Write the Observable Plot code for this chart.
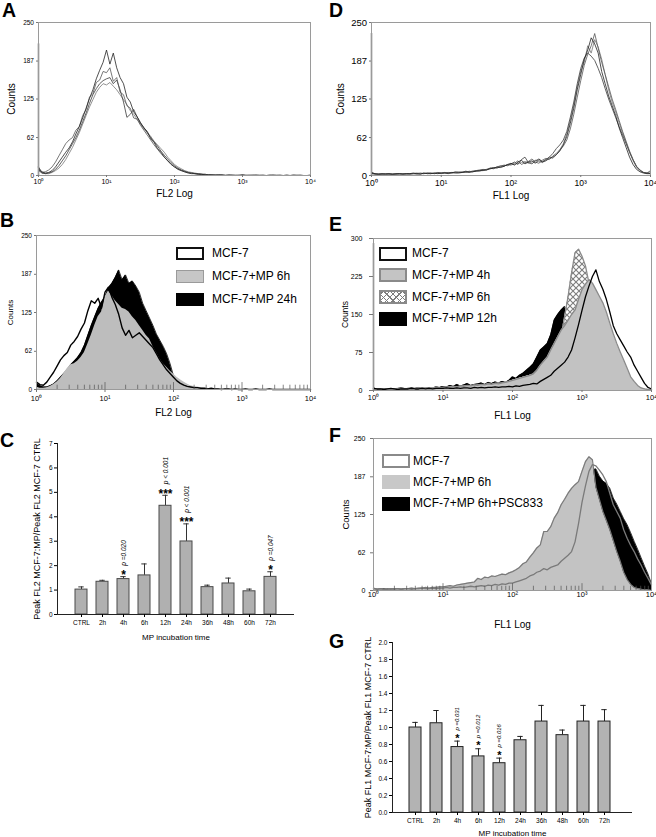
<!DOCTYPE html>
<html>
<head>
<meta charset="utf-8">
<script src="https://cdn.jsdelivr.net/npm/d3@7"></script>
<script src="https://cdn.jsdelivr.net/npm/@observablehq/plot@0.6"></script>
<style>
  body { margin: 0; background: #fff; font-family: "Liberation Sans", Arial, Helvetica, sans-serif; }
  #fig { position: relative; width: 656px; height: 837px; overflow: hidden; background: #fff; }
  .panel { position: absolute; }
  .panel svg { display: block; overflow: visible; }
  .letter { position: absolute; font-weight: bold; font-size: 19.5px; line-height: 1; color: #000; }
  .lgrow { position: absolute; }
  .lgsw { position: absolute; box-sizing: border-box; }
  .lgtx { position: absolute; white-space: nowrap; color: #000; }
</style>
</head>
<body>
<svg width="0" height="0" style="position:absolute">
  <defs>
    <pattern id="hatch" patternUnits="userSpaceOnUse" width="6" height="6">
      <rect width="6" height="6" fill="#ffffff"></rect>
      <path d="M0,0L6,6M6,0L0,6" stroke="#7d7d7d" stroke-width="1.1"></path>
    </pattern>
  </defs>
</svg>
<div id="fig"></div>
<script>
// ---------------- DATA ----------------
// log10 of fluorescence channel for every histogram sample
const logChannels = [
  0,0.05,0.1,0.15,0.2,0.25,0.3,0.35,0.4,0.45,
  0.5,0.55,0.6,0.65,0.7,0.75,0.8,0.85,0.9,0.95,
  1,1.05,1.1,1.15,1.2,1.25,1.3,1.35,1.4,1.45,
  1.5,1.55,1.6,1.65,1.7,1.75,1.8,1.85,1.9,1.95,
  2,2.05,2.1,2.15,2.2,2.25,2.3,2.35,2.4,2.45,
  2.5,2.55,2.6,2.65,2.7,2.75,2.8,2.85,2.9,2.95,
  3,3.05,3.1,3.15,3.2,3.25,3.3,3.35,3.4,3.45,
  3.5,3.55,3.6,3.65,3.7,3.75,3.8,3.85,3.9,3.95,
  4
];
const decadeTicks = [1, 10, 100, 1000, 10000];
const decadeLabels = ["10⁰", "10¹", "10²", "10³", "10⁴"];
const countTicks250 = [0, 62, 125, 187, 250];
const countTicks300 = [0, 75, 150, 225, 300];

// Panel A: FL2 replicates
const a1 = [12,6,4,5,8,14,22,30,38,45, 55,68,80,94,110,126,140,158,172,185, 205,182,200,176,160,150,128,120,104,96, 86,78,72,60,54,44,38,30,24,18, 14,10,8,6,4,3,3,2,2,1, 1,1,0,1,1,0,0,1,0,0, 1,0,0,0,1,0,0,0,0,1, 0,0,0,0,0,1,0,0,0,0, 0];
const a2 = [14,5,6,9,14,22,32,42,52,58, 62,74,80,98,108,128,134,152,156,170, 168,176,154,160,136,132,114,110,94,92, 82,74,66,58,50,43,36,30,24,19, 14,11,8,6,5,4,3,2,2,1, 1,0,1,1,0,0,1,0,0,1, 0,0,1,0,0,0,1,0,0,0, 0,1,0,0,0,0,0,1,0,0, 0];
const a3 = [10,4,3,4,6,10,16,24,32,42, 52,62,74,88,102,118,132,142,150,155, 158,160,150,156,140,120,95,100,108,96, 86,78,70,62,55,48,40,33,27,21, 16,12,9,7,5,4,3,3,2,2, 1,1,1,0,1,0,1,0,0,0, 1,0,0,1,0,0,0,0,1,0, 0,0,0,1,0,0,0,0,0,0, 1];
const a4 = [8,4,3,3,5,8,12,18,26,36, 46,58,70,84,98,112,124,136,144,150, 148,152,146,140,132,124,116,106,100,92, 84,76,70,64,56,50,44,38,30,24, 18,14,11,8,6,5,4,3,2,2, 1,1,1,1,0,1,0,0,1,0, 0,1,0,0,0,1,0,0,0,0, 1,0,0,0,0,0,1,0,0,0, 0];
const spikeA = 215;

// Panel D: FL1 replicates
const d1 = [4,3,2,3,2,3,2,3,3,2, 3,3,4,3,2,4,3,3,4,3, 4,4,3,5,4,4,5,6,5,6, 7,8,8,9,11,12,14,13,15,18, 20,17,22,25,19,22,24,20,26,22, 24,28,30,34,40,50,64,85,110,140, 165,190,205,225,215,200,170,150,130,114, 98,78,62,46,30,18,10,6,4,3, 3];
const d2 = [3,2,3,2,3,2,2,3,2,3, 2,3,3,4,3,3,4,3,4,4, 3,5,4,4,5,5,6,5,7,6, 8,7,9,10,12,11,14,16,15,18, 17,20,24,18,21,23,27,22,20,25, 28,26,32,36,42,48,58,76,100,128, 155,180,198,212,232,208,185,165,145,125, 108,90,72,56,40,26,14,8,5,4, 8];
const d3 = [5,3,2,2,3,3,2,2,3,3, 3,2,3,3,4,3,4,4,3,5, 4,4,5,4,6,5,5,7,6,7, 8,9,10,9,12,13,12,15,17,16, 19,22,18,26,30,21,19,24,27,23, 26,30,36,44,50,58,72,95,120,150, 175,192,200,195,188,175,160,142,125,110, 95,80,66,52,38,26,15,9,5,4, 3];
const d4 = [4,2,2,3,2,2,3,2,3,2, 3,3,3,2,3,4,3,4,3,4, 4,5,4,5,5,6,5,6,6,7, 7,8,9,10,11,12,13,14,16,17, 19,18,20,21,23,20,22,25,23,21, 26,30,28,34,42,52,68,90,115,145, 170,185,212,200,222,210,190,165,140,120, 104,86,70,54,38,24,14,8,5,4, 6];
const spikeD = 232;

// Panel B: FL2
const bLabels = ["MCF-7", "MCF-7+MP 6h", "MCF-7+MP 24h"];
const bMcf7 = [12,8,7,12,20,28,38,48,55,60, 72,78,86,98,108,128,144,140,148,132, 158,166,150,138,122,100,88,96,84,88, 92,86,80,74,68,58,48,40,32,26, 20,14,10,7,5,4,3,3,2,2, 1,2,1,1,0,1,1,0,1,0, 0,1,0,0,1,0,0,0,1,0, 0,0,0,0,0,0,0,0,0,0, 0];
const bMp6h = [4,2,2,3,5,8,12,18,26,34, 40,42,46,52,60,74,88,104,118,126, 150,160,152,144,138,132,130,126,118,112, 104,96,88,82,70,60,50,42,36,30, 25,20,16,12,9,6,5,4,3,2, 2,1,1,1,1,0,1,0,0,0, 0,0,0,0,0,0,0,0,0,0, 0,0,0,0,0,0,0,0,0,0, 0];
const bMp24h = [10,6,4,4,6,9,14,20,26,32, 40,46,52,60,72,88,104,118,132,142, 150,165,172,182,194,178,186,172,176,168, 158,140,128,116,104,90,80,70,58,42, 22,10,6,4,3,2,2,1,1,0, 0,0,0,0,0,0,0,0,0,0, 0,0,0,0,0,0,0,0,0,0, 0,0,0,0,0,0,0,0,0,0, 0];

// Panel E: FL1
const eLabels = ["MCF-7", "MCF-7+MP 4h", "MCF-7+MP 6h", "MCF-7+MP 12h"];
const eMcf7 = [4,3,3,2,3,4,3,2,3,3, 3,4,3,3,4,3,4,3,4,4, 4,5,4,4,5,4,5,5,4,6, 5,6,5,6,6,7,6,7,7,8, 7,9,8,10,11,12,14,13,18,22, 26,30,38,44,50,56,66,80,104,130, 158,185,206,225,238,215,200,180,155,128, 112,100,88,76,66,50,38,26,14,6, 3];
const eMp4h = [3,2,3,2,3,3,2,3,4,3, 4,3,4,5,4,5,4,5,6,5, 6,7,6,8,7,9,8,10,9,11, 10,12,11,13,12,14,13,15,16,18, 20,22,24,26,28,30,33,40,50,58, 66,80,93,106,119,128,139,150,159,180, 199,210,219,212,199,186,173,155,133,112, 93,76,60,44,27,18,10,5,3,2, 1];
const eMp6h = [3,3,2,3,2,3,3,4,3,3, 4,3,4,4,5,4,5,5,6,5, 6,6,7,8,7,8,9,8,10,9, 11,10,12,13,12,14,15,14,16,18, 20,22,24,26,28,30,31,32,33,40, 50,64,80,94,106,146,186,232,272,279, 265,246,212,196,186,170,152,132,110,90, 74,58,42,28,18,11,6,4,2,1, 1];
const eMp12h = [5,3,3,4,3,4,3,4,5,4, 4,5,4,6,5,4,6,5,7,6, 8,7,10,8,12,9,11,14,10,12, 13,15,12,16,14,17,15,18,16,20, 27,24,30,34,40,46,53,66,80,86, 93,110,139,150,159,166,146,170,172,180, 185,178,170,160,150,140,128,112,95,80, 65,50,36,22,14,8,4,2,1,1, 0];
const spikeE = 290;

// Panel F: FL1
const fLabels = ["MCF-7", "MCF-7+MP 6h", "MCF-7+MP 6h+PSC833"];
const fMcf7 = [3,2,3,2,2,3,2,3,2,3, 3,2,3,3,4,3,3,4,3,4, 4,5,4,5,5,6,5,6,7,6, 7,8,7,9,8,10,9,11,10,12, 12,14,16,18,20,24,26,30,32,36, 34,38,40,42,48,53,58,64,80,110, 145,172,196,207,205,198,190,179,160,141, 130,119,100,86,74,64,52,42,30,20, 9];
const fMp6h = [4,2,3,2,3,2,3,3,2,3, 3,4,3,4,4,5,4,5,5,6, 6,7,8,7,9,10,11,12,13,14, 20,18,22,21,24,23,25,27,26,29, 31,34,38,44,47,55,62,70,75,97, 97,105,119,128,141,150,160,168,174,179, 196,212,220,215,170,150,130,115,100,82, 64,48,30,18,10,5,3,2,1,1, 0];
const fPsc = [3,2,2,3,2,2,3,2,2,3, 2,3,2,3,3,2,3,3,4,3, 3,4,4,3,4,5,4,5,5,6, 6,7,6,7,8,7,8,9,9,10, 11,12,13,14,16,18,20,22,25,28, 30,34,38,42,46,50,55,60,66,72, 80,130,180,198,200,188,180,176,168,152, 142,130,118,108,95,81,68,54,40,27, 11];

// Panels C and G: peak ratios
const times = ["CTRL", "2h", "4h", "6h", "12h", "24h", "36h", "48h", "60h", "72h"];
const fl2Ratio = [1.02, 1.34, 1.45, 1.60, 4.45, 2.99, 1.12, 1.27, 0.95, 1.54];
const fl2Err   = [0.11, 0.06, 0.10, 0.47, 0.43, 0.72, 0.08, 0.22, 0.09, 0.21];
const fl2Ticks = [0, 1, 2, 3, 4, 5, 6, 7];
const sigTimesC = ["4h", "12h", "24h", "72h"];
const sigStarsC = ["*", "***", "***", "*"];
const sigPC = ["p =0.020", "p < 0.001", "p < 0.001", "p =0.047"];

const fl1Ratio = [1.00, 1.05, 0.77, 0.66, 0.58, 0.85, 1.07, 0.91, 1.07, 1.07];
const fl1Err   = [0.06, 0.15, 0.07, 0.09, 0.06, 0.045, 0.19, 0.06, 0.19, 0.14];
const fl1Ticks = [0, 0.2, 0.4, 0.6, 0.8, 1.0, 1.2, 1.4, 1.6, 1.8, 2.0];
const sigTimesG = ["4h", "6h", "12h"];
const sigStarsG = ["*", "*", "*"];
const sigPG = ["p =0.031", "p =0.012", "p =0.016"];

// ---------------- HELPERS ----------------
const FONT = "Liberation Sans, Arial, Helvetica, sans-serif";
const fig = document.getElementById("fig");

const minorTicks = [];
for (const p of [1, 10, 100, 1000]) for (let k = 2; k <= 9; k++) minorTicks.push(k * p);

function curveRows(values) {
  return values.map((v, i) => ({x: Math.pow(10, logChannels[i]), y: v}));
}

function place(svg, left, top, w, h) {
  const d = document.createElement("div");
  d.className = "panel";
  d.style.left = left + "px";
  d.style.top = top + "px";
  d.style.width = w + "px";
  d.style.height = h + "px";
  d.appendChild(svg);
  fig.appendChild(d);
}

function letter(ch, left, top) {
  const d = document.createElement("div");
  d.className = "letter";
  d.textContent = ch;
  d.style.left = left + "px";
  d.style.top = top + "px";
  fig.appendChild(d);
}

function legend(c) {
  c.labels.forEach((lab, i) => {
    const row = document.createElement("div");
    row.className = "lgrow";
    row.style.left = c.left + "px";
    row.style.top = (c.top + i * c.step) + "px";
    const sw = document.createElement("div");
    sw.className = "lgsw";
    sw.style.cssText += `left:0;top:${-c.h / 2}px;width:${c.w}px;height:${c.h}px;` + c.swatches[i];
    const tx = document.createElement("div");
    tx.className = "lgtx";
    tx.textContent = lab;
    tx.style.cssText += `left:${c.textDx}px;top:${-c.font * 0.6}px;font-size:${c.font}px;line-height:${c.font * 1.2}px;`;
    row.appendChild(sw);
    row.appendChild(tx);
    fig.appendChild(row);
  });
}

function histogram(c) {
  const marks = [];
  for (const s of c.series) {
    const rows = curveRows(s.values);
    if (s.fill) marks.push(Plot.areaY(rows, {x: "x", y: "y", fill: s.fill}));
    if (s.stroke) marks.push(Plot.lineY(rows, {x: "x", y: "y", stroke: s.stroke, strokeWidth: s.strokeWidth ?? 1}));
  }
  if (c.spike != null) marks.push(Plot.ruleX([1], {y1: 0, y2: c.spike, stroke: "#111", strokeWidth: 1.3}));
  if (c.minor) {
    marks.push(Plot.ruleX(minorTicks, {x: d => d, y1: 0, y2: c.yMax * 0.028, stroke: "#555", strokeWidth: 0.7}));
    marks.push(Plot.ruleX(decadeTicks, {x: d => d, y1: 0, y2: c.yMax * 0.045, stroke: "#555", strokeWidth: 0.7}));
  }
  marks.push(Plot.frame({stroke: "#9a9a9a", strokeWidth: 1}));
  marks.push(Plot.axisX({ticks: decadeTicks, tickFormat: d => decadeLabels[decadeTicks.indexOf(d)],
    tickSize: c.xTickSize, tickPadding: c.xTickPad, fontSize: c.xTickFont, stroke: "#777", label: null}));
  marks.push(Plot.axisY({ticks: c.yTicks, tickSize: c.yTickSize, tickPadding: c.yTickPad,
    fontSize: c.yTickFont, stroke: "#777", label: null}));
  marks.push(Plot.text([c.xLabel], {text: d => d, frameAnchor: "bottom", textAnchor: "middle", lineAnchor: "middle",
    dy: c.xLabelDy, fontSize: c.labelFont}));
  marks.push(Plot.text(["Counts"], {text: d => d, frameAnchor: "left", textAnchor: "middle", lineAnchor: "middle",
    rotate: -90, dx: c.yLabelDx, fontSize: c.countsFont}));
  return Plot.plot({
    width: c.width, height: c.height,
    marginTop: c.m[0], marginRight: c.m[1], marginBottom: c.m[2], marginLeft: c.m[3],
    x: {type: "log", domain: [1, 10000]},
    y: {domain: [0, c.yMax]},
    style: {fontFamily: FONT, background: "transparent", overflow: "visible", color: "#000"},
    marks
  });
}

function barChart(c) {
  const rows = times.map((t, i) => ({time: t, ratio: c.ratio[i], err: c.err[i], top: c.ratio[i] + c.err[i]}));
  const sig = c.sigTimes.map((t, i) => ({time: t, stars: c.sigStars[i], p: c.sigP[i], top: rows.find(r => r.time === t).top}));
  return Plot.plot({
    width: c.width, height: c.height,
    marginTop: c.m[0], marginRight: c.m[1], marginBottom: c.m[2], marginLeft: c.m[3],
    x: {type: "band", domain: times, paddingInner: 0.41, paddingOuter: 0.205, insetLeft: c.inset[0], insetRight: c.inset[1]},
    y: {domain: c.yDomain},
    style: {fontFamily: FONT, background: "transparent", overflow: "visible", color: "#000"},
    marks: [
      Plot.ruleX(rows, {x: "time", y1: "ratio", y2: "top", stroke: c.errColor, strokeWidth: 1}),
      Plot.tickY(rows, {x: "time", y: "top", stroke: c.errColor, strokeWidth: 1, insetLeft: 3.3, insetRight: 3.3}),
      Plot.barY(rows, {x: "time", y: "ratio", fill: c.barFill, stroke: c.barStroke, strokeWidth: 1}),
      Plot.ruleY([0], {stroke: "#222", strokeWidth: 1}),
      Plot.frame({anchor: "left", stroke: "#222", strokeWidth: 1}),
      Plot.axisY({ticks: c.yTicks, tickFormat: c.yFormat, tickSize: 3, tickPadding: 2, fontSize: 6.5, label: null}),
      Plot.axisX({tickSize: 3, tickPadding: 3, fontSize: 6.5, label: null}),
      Plot.text(sig, {x: "time", y: "top", text: "stars", dy: c.starDy, fontSize: c.starFont, fontWeight: "bold"}),
      Plot.text(sig, {x: "time", y: "top", text: "p", rotate: -90, textAnchor: "start", dy: c.pDy, fontSize: c.pFont, fontStyle: "italic"}),
      Plot.text([c.yLabel], {text: d => d, frameAnchor: "left", textAnchor: "middle", lineAnchor: "middle",
        rotate: -90, dx: c.yLabelDx, fontSize: 9}),
      Plot.text(["MP incubation time"], {text: d => d, frameAnchor: "bottom", textAnchor: "middle", lineAnchor: "middle",
        dy: c.xLabelDy, fontSize: 8})
    ]
  });
}

// ---------------- PANELS ----------------
const darkLines = ["#222", "#555", "#3a3a3a", "#777"];

place(histogram({
  width: 330, height: 205, m: [22, 20, 30, 38], yMax: 250, yTicks: countTicks250,
  series: [a4, a3, a2, a1].map((v, i) => ({values: v, stroke: darkLines[3 - i], strokeWidth: 0.8})),
  spike: spikeA, minor: false,
  xTickSize: 2, xTickPad: 2, xTickFont: 7, yTickSize: 2, yTickPad: 2.5, yTickFont: 6.5,
  xLabel: "FL2 Log", xLabelDy: 18, labelFont: 10, yLabelDx: -26.5, countsFont: 10
}), 0, 0, 330, 205);

place(histogram({
  width: 326, height: 205, m: [22, 6, 30, 41], yMax: 250, yTicks: countTicks250,
  series: [d4, d3, d2, d1].map((v, i) => ({values: v, stroke: darkLines[3 - i], strokeWidth: 0.8})),
  spike: spikeD, minor: false,
  xTickSize: 2, xTickPad: 2.5, xTickFont: 8.5, yTickSize: 2, yTickPad: 2.5, yTickFont: 9.5,
  xLabel: "FL1 Log", xLabelDy: 20, labelFont: 10, yLabelDx: -31, countsFont: 10
}), 330, 0, 326, 205);

place(histogram({
  width: 330, height: 210, m: [25, 20, 31, 36], yMax: 250, yTicks: countTicks250,
  series: [
    {values: bMp24h, fill: "#000", stroke: "#000", strokeWidth: 0.8},
    {values: bMp6h, fill: "#bdbdbd"},
    {values: bMcf7, stroke: "#000", strokeWidth: 1.4}
  ],
  minor: true,
  xTickSize: 3, xTickPad: 3, xTickFont: 7.5, yTickSize: 2, yTickPad: 2.5, yTickFont: 6.5,
  xLabel: "FL2 Log", xLabelDy: 23, labelFont: 10, yLabelDx: -25.7, countsFont: 8
}), 0, 210, 330, 210);

place(histogram({
  width: 326, height: 210, m: [28, 5, 30, 43], yMax: 300, yTicks: countTicks300,
  series: [
    {values: eMp12h, fill: "#000", stroke: "#000", strokeWidth: 0.8},
    {values: eMp6h, fill: "url(#hatch)", stroke: "#8a8a8a", strokeWidth: 1.3},
    {values: eMp4h, fill: "#c2c2c2", stroke: "#8a8a8a", strokeWidth: 1.3},
    {values: eMcf7, stroke: "#000", strokeWidth: 1.3}
  ],
  spike: spikeE, minor: false,
  xTickSize: 2, xTickPad: 2, xTickFont: 7.5, yTickSize: 4, yTickPad: 7, yTickFont: 7,
  xLabel: "FL1 Log", xLabelDy: 25, labelFont: 10, yLabelDx: -28, countsFont: 8.5
}), 330, 210, 326, 210);

place(histogram({
  width: 326, height: 222, m: [33, 5, 37, 43], yMax: 250, yTicks: countTicks250,
  series: [
    {values: fPsc, fill: "#000", stroke: "#000", strokeWidth: 0.8},
    {values: fMp6h, fill: "#c3c3c3", stroke: "#7a7a7a", strokeWidth: 1.2},
    {values: fMcf7, stroke: "#7a7a7a", strokeWidth: 1.3}
  ],
  minor: true,
  xTickSize: 0, xTickPad: 1, xTickFont: 7.5, yTickSize: 3, yTickPad: 5, yTickFont: 7,
  xLabel: "FL1 Log", xLabelDy: 34, labelFont: 10, yLabelDx: -28, countsFont: 9.5
}), 330, 405, 326, 222);

place(barChart({
  width: 330, height: 215, m: [13, 36, 31, 57], inset: [11.2, 10.2],
  ratio: fl2Ratio, err: fl2Err, yDomain: [0, 7], yTicks: fl2Ticks, yFormat: d => String(d),
  sigTimes: sigTimesC, sigStars: sigStarsC, sigP: sigPC,
  barFill: "#b0b0b0", barStroke: "#4a4a4a", errColor: "#333",
  starDy: -1.5, starFont: 12, pDy: -11, pFont: 6.5,
  yLabel: "Peak FL2 MCF-7:MP/Peak FL2 MCF-7 CTRL", yLabelDx: -20, xLabelDy: 22.7
}), 0, 430, 330, 215);

place(barChart({
  width: 326, height: 207, m: [12, 24, 25, 62], inset: [11.55, 15.56],
  ratio: fl1Ratio, err: fl1Err, yDomain: [0, 2], yTicks: fl1Ticks, yFormat: d => d.toFixed(1),
  sigTimes: sigTimesG, sigStars: sigStarsG, sigP: sigPG,
  barFill: "#b3b3b3", barStroke: "#222", errColor: "#222",
  starDy: -3, starFont: 11, pDy: -10.5, pFont: 6,
  yLabel: "Peak FL1 MCF-7:MP/Peak FL1 MCF-7 CTRL", yLabelDx: -24.5, xLabelDy: 21
}), 330, 630, 326, 207);

// ---------------- LEGENDS ----------------
legend({left: 176, top: 253, step: 23, w: 28, h: 13, textDx: 36, font: 12, labels: bLabels,
  swatches: ["background:#fff;border:2px solid #111;", "background:#c6c6c6;border:1.5px solid #9a9a9a;", "background:#000;border:1.5px solid #000;"]});
legend({left: 379, top: 253.5, step: 21.7, w: 28, h: 14, textDx: 33, font: 12, labels: eLabels,
  swatches: ["background:#fff;border:2px solid #111;", "background:#c4c4c4;border:2px solid #8a8a8a;",
    "background:repeating-linear-gradient(45deg,#7d7d7d 0 1px,transparent 1px 4.5px),repeating-linear-gradient(-45deg,#7d7d7d 0 1px,#fff 1px 4.5px);border:2px solid #8a8a8a;",
    "background:#000;border:1.5px solid #000;"]});
legend({left: 382, top: 461, step: 21.3, w: 28, h: 14, textDx: 31, font: 12, labels: fLabels,
  swatches: ["background:#fff;border:2px solid #8a8a8a;", "background:#c8c8c8;border:1.5px solid #c8c8c8;", "background:#000;border:1.5px solid #000;"]});

// ---------------- PANEL LETTERS ----------------
letter("A", 2, 0.5);
letter("D", 329, 0.5);
letter("B", 0, 210.5);
letter("E", 329, 214.5);
letter("C", 0, 430.5);
letter("F", 329, 425.5);
letter("G", 329, 631.5);
</script>
</body>
</html>
